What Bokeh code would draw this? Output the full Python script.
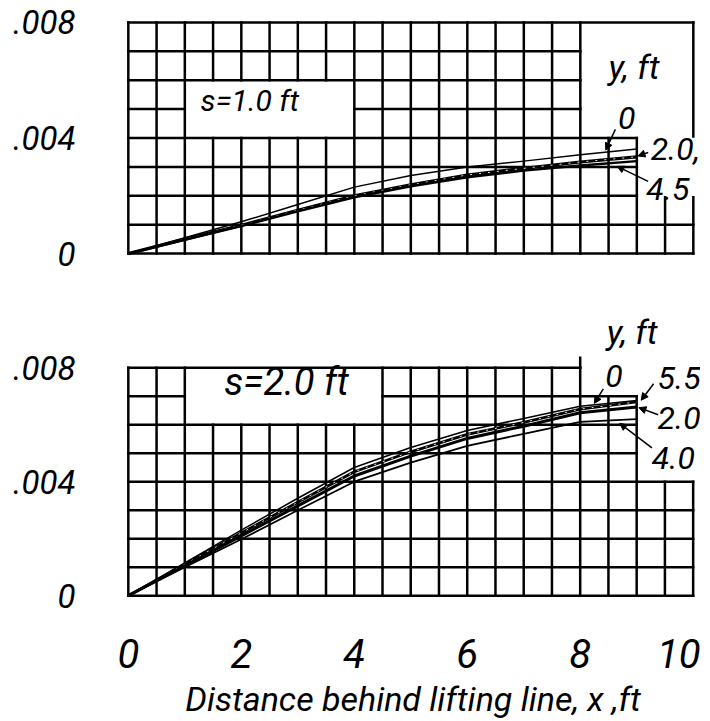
import numpy as np
from bokeh.plotting import figure
from bokeh.layouts import column
from bokeh.models import FixedTicker, Label, Arrow, NormalHead, Range1d
from bokeh.embed import file_html
from bokeh.resources import INLINE

# ---------------- data ----------------
x_ft = [0, 1, 2, 3, 4, 5, 6, 7, 8, 9]

# s = 1.0 ft panel
top_y_0 = [0, 0.00055, 0.0011, 0.0017, 0.0023, 0.0027, 0.0030, 0.0032, 0.00342, 0.00362]
top_y_20 = [0, 0.00050, 0.00098, 0.0015, 0.0020, 0.00238, 0.00272, 0.00295, 0.00317, 0.00335]
top_y_45 = [0, 0.00048, 0.00095, 0.00146, 0.00195, 0.00233, 0.00264, 0.00287, 0.00305, 0.0032]

# s = 2.0 ft panel
bot_y_0 = [0, 0.00115, 0.0023, 0.00342, 0.0045, 0.0052, 0.0058, 0.00622, 0.00665, 0.00685]
bot_y_55 = [0, 0.0011, 0.0022, 0.00328, 0.00435, 0.00505, 0.00566, 0.00608, 0.00655, 0.0068]
bot_y_20 = [0, 0.00105, 0.0021, 0.00315, 0.0042, 0.0049, 0.00552, 0.00595, 0.00642, 0.00662]
bot_y_40 = [0, 0.0010, 0.00198, 0.0030, 0.0040, 0.00467, 0.00526, 0.00568, 0.0061, 0.0062]

x_tick_values = [0, 2, 4, 6, 8, 10]
x_tick_labels = ["0", "2", "4", "6", "8", "10"]
y_tick_values = [0, 0.004, 0.008]
y_tick_labels = ["0", ".004", ".008"]
x_title = "Distance behind lifting line, x ,ft"

# blank (un-ruled) regions of each grid: (x0, x1, y0, y1)
top_blank = [(1.0, 4.0, 0.004, 0.006), (8.0, 10.0, 0.004, 0.008), (9.0, 10.5, 0.00195, 0.00405)]
bot_blank = [(1.0, 4.5, 0.006, 0.008), (8.0, 10.5, 0.007, 0.009), (9.0, 10.5, 0.004, 0.0075)]

FONT = "Roboto"


def grid_lines(cutouts, x_max=10.0, y_max=0.008, dx=0.5, dy=0.001):
    xs_grid = np.round(np.arange(0, x_max + dx / 2, dx), 6)
    ys_grid = np.round(np.arange(0, y_max + dy / 2, dy), 9)
    lx, ly = [], []

    def subtract(intervals, lo, hi):
        out = []
        for a, b in intervals:
            if hi <= a or lo >= b:
                out.append((a, b))
                continue
            if a < lo:
                out.append((a, lo))
            if hi < b:
                out.append((hi, b))
        return out

    for x in xs_grid:
        iv = [(0.0, y_max)]
        for (cx0, cx1, cy0, cy1) in cutouts:
            if cx0 + 1e-9 < x < cx1 - 1e-9:
                iv = subtract(iv, cy0, cy1)
        for a, b in iv:
            lx.append([x, x]); ly.append([a, b])
    for y in ys_grid:
        iv = [(0.0, x_max)]
        for (cx0, cx1, cy0, cy1) in cutouts:
            if cy0 + 1e-12 < y < cy1 - 1e-12:
                iv = subtract(iv, cx0, cx1)
        for a, b in iv:
            lx.append([a, b]); ly.append([y, y])
    return lx, ly


def base_figure(x_end, y_start, y_end, frame_w, frame_h, bl, bt, bb, show_x):
    p = figure(output_backend="svg", toolbar_location=None,
               x_range=Range1d(-0.05, x_end), y_range=Range1d(y_start, y_end),
               frame_width=frame_w, frame_height=frame_h,
               min_border_left=bl, min_border_right=0, min_border_top=bt, min_border_bottom=bb,
               x_axis_location="below" if show_x else None,
               background_fill_color="white", border_fill_color="white")
    p.outline_line_color = None
    p.xgrid.grid_line_color = None
    p.ygrid.grid_line_color = None
    p.yaxis.ticker = FixedTicker(ticks=y_tick_values)
    p.yaxis.major_label_overrides = {v: t for v, t in zip(y_tick_values, y_tick_labels)}
    p.yaxis.axis_line_color = None
    p.yaxis.major_tick_line_color = None
    p.yaxis.minor_tick_line_color = None
    p.yaxis.major_label_standoff = 44
    p.yaxis.major_label_text_font = FONT
    p.yaxis.major_label_text_font_style = "italic"
    p.yaxis.major_label_text_font_size = "33px"
    p.yaxis.major_label_text_color = "black"
    if show_x:
        p.xaxis.ticker = FixedTicker(ticks=x_tick_values)
        p.xaxis.major_label_overrides = {v: t for v, t in zip(x_tick_values, x_tick_labels)}
        p.xaxis.axis_line_color = None
        p.xaxis.major_tick_line_color = None
        p.xaxis.minor_tick_line_color = None
        p.xaxis.major_label_standoff = 34
        p.xaxis.major_label_text_font = FONT
        p.xaxis.major_label_text_font_style = "italic"
        p.xaxis.major_label_text_font_size = "40px"
        p.xaxis.major_label_text_color = "black"
        p.xaxis.axis_label = x_title
        p.xaxis.axis_label_standoff = 8
        p.xaxis.axis_label_text_font = FONT
        p.xaxis.axis_label_text_font_style = "italic"
        p.xaxis.axis_label_text_font_size = "34px"
        p.xaxis.axis_label_text_color = "black"
    return p


def add_label(p, x, y, text, size):
    p.add_layout(Label(x=x, y=y, text=text, text_font=FONT, text_font_style="italic",
                       text_font_size=size, text_align="center", text_baseline="middle",
                       text_color="black"))


def add_leader(p, xs, ys, xe, ye):
    p.add_layout(Arrow(end=NormalHead(size=7, fill_color="black", line_color="black"),
                       x_start=xs, y_start=ys, x_end=xe, y_end=ye,
                       line_width=1.5, line_color="black"))


def heavy_line(p, x, y, w):
    p.line(x, y, line_color="black", line_width=w)
    p.line(x, y, line_color="white", line_width=0.9, line_dash="2 7")


# ---------------- top panel: s = 1.0 ft ----------------
p1 = base_figure(10.18, -0.0001, 0.0081, 578, 237, 122, 19, 19, False)
gx, gy = grid_lines(top_blank)
p1.multi_line(gx, gy, line_color="black", line_width=2.5, line_cap="square")
p1.line(x_ft, top_y_0, line_color="black", line_width=1.5)
heavy_line(p1, x_ft, top_y_20, 3.2)
p1.line(x_ft, top_y_45, line_color="black", line_width=2.4)

add_label(p1, 2.15, 0.0053, "s=1.0 ft", "30px")
add_label(p1, 8.95, 0.00645, "y, ft", "34px")
add_label(p1, 8.82, 0.0047, "0", "32px")
add_label(p1, 9.68, 0.00362, "2.0,", "32px")
add_label(p1, 9.55, 0.00225, "4.5", "32px")
add_leader(p1, 8.62, 0.0043, 8.45, 0.00358)
add_leader(p1, 9.2, 0.0035, 9.02, 0.00338)
add_leader(p1, 9.2, 0.0025, 8.65, 0.00302)

# ---------------- bottom panel: s = 2.0 ft ----------------
p2 = base_figure(10.13, -0.0001, 0.0098, 575, 282, 125, 41, 0, True)
gx, gy = grid_lines(bot_blank)
gx.append([8.0, 8.0]); gy.append([0.008, 0.00835])
p2.multi_line(gx, gy, line_color="black", line_width=2.5, line_cap="square")
p2.line(x_ft, bot_y_0, line_color="black", line_width=1.5)
heavy_line(p2, x_ft, bot_y_55, 2.8)
p2.line(x_ft, bot_y_20, line_color="black", line_width=3.0)
p2.line(x_ft, bot_y_40, line_color="black", line_width=1.8)

add_label(p2, 2.8, 0.0075, "s=2.0 ft", "38px")
add_label(p2, 8.92, 0.00925, "y, ft", "34px")
add_label(p2, 8.6, 0.00772, "0", "32px")
add_label(p2, 9.75, 0.00765, "5.5", "32px")
add_label(p2, 9.75, 0.00625, "2.0", "32px")
add_label(p2, 9.65, 0.00484, "4.0", "32px")
add_leader(p2, 8.41, 0.00726, 8.25, 0.00675)
add_leader(p2, 9.3, 0.00744, 9.08, 0.00686)
add_leader(p2, 9.38, 0.00635, 9.04, 0.0066)
add_leader(p2, 9.27, 0.00519, 8.7, 0.00605)

layout = column(p1, p2)
open("out.html", "w").write(file_html(layout, INLINE))
